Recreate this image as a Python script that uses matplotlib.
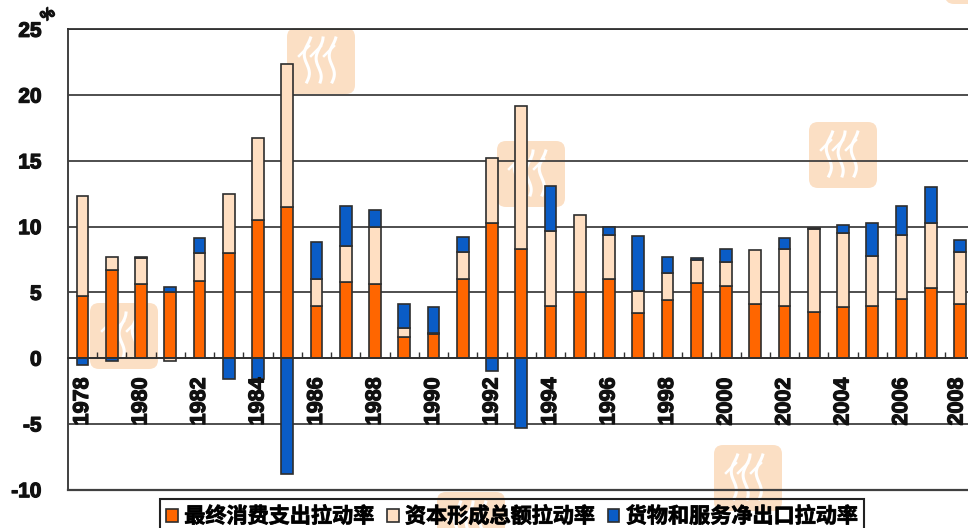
import numpy as np
import matplotlib
matplotlib.use("Agg")
import matplotlib.pyplot as plt
import matplotlib.patheffects as pe
from matplotlib.patches import FancyBboxPatch
from matplotlib.lines import Line2D
from matplotlib.transforms import ScaledTranslation

years = list(range(1978, 2009))
consumption = [4.7, 6.7, 5.6, 5.0, 5.9, 8.0, 10.5, 11.5, 4.0, 5.8, 5.6, 1.6, 1.8, 6.0, 10.3, 8.3,
               4.0, 5.0, 6.0, 3.4, 4.4, 5.7, 5.5, 4.1, 4.0, 3.5, 3.9, 4.0, 4.5, 5.3, 4.1]
capital = [7.6, 1.0, 2.0, -0.2, 2.1, 4.5, 6.2, 10.9, 2.0, 2.7, 4.4, 0.7, 0.1, 2.1, 4.9, 10.9,
           5.7, 5.9, 3.4, 1.7, 2.1, 1.8, 1.8, 4.1, 4.3, 6.3, 5.6, 3.8, 4.9, 5.0, 4.0]
net_export = [-0.5, -0.2, 0.1, 0.4, 1.1, -1.6, -1.6, -8.8, 2.8, 3.1, 1.3, 1.8, 2.0, 1.1, -1.0, -5.3,
              3.4, 0.0, 0.6, 4.2, 1.2, 0.1, 1.0, 0.0, 0.8, 0.1, 0.6, 2.5, 2.2, 2.7, 0.9]
names = ["最终消费支出拉动率", "资本形成总额拉动率", "货物和服务净出口拉动率"]
colors = ["#FF6600", "#FFDFC2", "#0A5CC6"]
y_ticks = [-10, -5, 0, 5, 10, 15, 20, 25]
# watermark stamps: left, top edge in image pixels
stamps = [(287, 28), (497, 141), (809, 122), (714, 445), (90, 303), (437, 492), (945, -62)]

W, H = 968, 528
plt.rcParams["font.family"] = ["Liberation Sans", "Noto Sans CJK SC", "DejaVu Sans"]
fig = plt.figure(figsize=(W / 100, H / 100), dpi=100, facecolor="white")
heavy = [pe.withStroke(linewidth=0.9, foreground="#111111")]

# Watermarks sit behind the transparent axes
for sx, sy in stamps:
    box = FancyBboxPatch((sx + 6, H - sy - 60), 56, 54, boxstyle="round,pad=6,rounding_size=9",
                         transform=None, fc="#FBDFC4", ec="none", zorder=-2)
    fig.add_artist(box)
    for off in (21, 33, 46):
        t = np.linspace(0, 1, 24)
        xs = sx + off + 3 * np.sin(t * 7 + off) - 2 * t
        ys = H - sy - 10 - 44 * t
        fig.add_artist(Line2D(xs, ys, transform=None, color="white", lw=2.2, zorder=-1))
        fig.add_artist(Line2D([sx + off + 1, sx + off - 9], [H - sy - 18, H - sy - 28],
                              transform=None, color="white", lw=1.8, zorder=-1))

ax = fig.add_axes([68 / W, (H - 489.7) / H, (W - 68) / W, 460.4 / H], facecolor="none")

cons = np.array(consumption)
cap = np.array(capital)
net = np.array(net_export)
pos = np.zeros(len(years))
neg = np.zeros(len(years))
handles = []
for vals, col, name in zip((cons, cap, net), colors, names):
    base = np.where(vals >= 0, pos, neg)
    mask = vals != 0
    bars = ax.bar(np.array(years)[mask], vals[mask], bottom=base[mask], width=0.4, color=col,
                  edgecolor="#2E2E2E", linewidth=1.2, zorder=3, label=name)
    handles.append(bars)
    pos += np.where(vals >= 0, vals, 0)
    neg += np.where(vals < 0, vals, 0)

ax.set_yticks(y_ticks)
ax.set_yticklabels([str(v) for v in y_ticks], fontsize=15, fontweight="bold", color="#111111",
                   path_effects=heavy)
ax.tick_params(axis="y", length=0, pad=19)
ax.yaxis.grid(True, color="#404040", lw=1.3, zorder=1)
ax.set_axisbelow(True)

ax.spines["right"].set_visible(False)
ax.spines["left"].set_color("#404040")
ax.spines["left"].set_linewidth(1.4)
ax.spines["top"].set_color("#303030")
ax.spines["top"].set_linewidth(1.3)
ax.spines["bottom"].set_position(("data", 0))
ax.spines["bottom"].set_color("#303030")
ax.spines["bottom"].set_linewidth(1.3)
ax.spines["bottom"].set_zorder(4)
ax.axhline(-10, color="#404040", lw=1.6, clip_on=False, zorder=1)

even = [y for y in years if y % 2 == 0]
ax.set_xticks(even)
ax.set_xticklabels([str(y) for y in even], rotation=90, fontsize=15.5, fontweight="bold", color="#111111",
                   path_effects=heavy)
ax.set_xticks([y + 0.5 for y in years], minor=True)
ax.tick_params(axis="x", which="major", length=0, pad=14)
ax.tick_params(axis="x", which="minor", direction="in", length=4, width=1, color="#303030")
ax.xaxis.set_zorder(5)
ax.set_xlim(1978 - 14.5 / 29.25, 1978 + (W - 82.5) / 29.25)
ax.set_ylim(-10, 25)
last = ax.get_xticklabels()[-1]
last.set_transform(last.get_transform() + ScaledTranslation(-3 / 100, 0, fig.dpi_scale_trans))

fig.text(48 / W, 1 - 15 / H, "%", fontsize=11, fontweight="bold", rotation=35,
         ha="center", va="center", color="#111111", path_effects=heavy)

leg = fig.legend(handles=handles, labels=names, loc="lower left",
                 bbox_to_anchor=(160 / W, -5 / H), ncol=3, frameon=True, fancybox=False,
                 prop={"family": ["Noto Sans CJK SC", "DejaVu Sans"], "weight": "bold", "size": 15.2},
                 handlelength=0.55, handleheight=0.55, handletextpad=0.3, columnspacing=0.6,
                 borderpad=0.3, borderaxespad=0)
frame = leg.get_frame()
frame.set_alpha(None)
frame.set_facecolor((1, 1, 1, 0))
frame.set_edgecolor("#222222")
frame.set_linewidth(1.5)
for h in leg.legend_handles:
    h.set_edgecolor("#2E2E2E")
for txt in leg.get_texts():
    txt.set_path_effects([pe.withStroke(linewidth=0.6, foreground="#111111")])

fig.savefig("out.png", dpi=100)
